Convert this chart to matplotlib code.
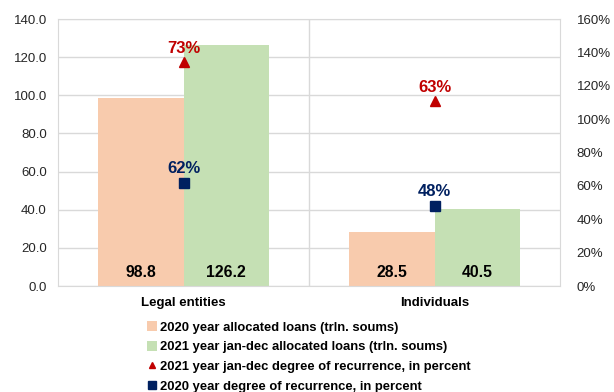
import numpy as np
import matplotlib
matplotlib.use("Agg")
import matplotlib.pyplot as plt
from matplotlib.lines import Line2D
from matplotlib.patches import Patch

plt.rcParams['font.family'] = ['Liberation Sans', 'DejaVu Sans']

# data
categories = ['Legal entities', 'Individuals']
loans_2020 = [98.8, 28.5]
loans_2021 = [126.2, 40.5]
recur_2021 = [73, 63]   # percent
recur_2020 = [62, 48]   # percent

legend_labels = [
    '2020 year allocated loans (trln. soums)',
    '2021 year jan-dec allocated loans (trln. soums)',
    '2021 year jan-dec degree of recurrence, in percent',
    '2020 year degree of recurrence, in percent',
]

c_orange = '#F8CBAD'
c_green = '#C5E0B4'
c_red = '#C00000'
c_navy = '#002060'
c_grid = '#D9D9D9'

fig = plt.figure(figsize=(6.14, 3.92), dpi=100)
ax = fig.add_axes([0.0945, 0.2704, 0.8176, 0.6811])

x = np.arange(len(categories))
w = 0.34
b1 = ax.bar(x - w / 2, loans_2020, w, color=c_orange, zorder=2)
b2 = ax.bar(x + w / 2, loans_2021, w, color=c_green, zorder=2)

for bars, vals in ((b1, loans_2020), (b2, loans_2021)):
    for r, v in zip(bars, vals):
        ax.annotate(f'{v:.1f}', (r.get_x() + r.get_width() / 2, 0),
                    xytext=(0, 9.4), textcoords='offset points',
                    ha='center', va='center', fontsize=11.3, fontweight='bold',
                    color='black', zorder=5)

ax.set_xlim(-0.5, 1.5)
ax.set_ylim(0, 140)
ax.set_yticks(np.arange(0, 141, 20))
ax.set_yticklabels([f'{v:.1f}' for v in np.arange(0, 141, 20)])
ax.yaxis.grid(True, color=c_grid, linewidth=1, zorder=0)
ax.axvline(0.5, color=c_grid, linewidth=1, zorder=0)
ax.set_xticks(x)
ax.set_xticklabels(categories, fontweight='bold', fontsize=9.5)
ax.tick_params(axis='x', length=0, pad=8)
ax.tick_params(axis='y', length=0, labelsize=9.5, colors='#262626', pad=8)
for s in ax.spines.values():
    s.set_color(c_grid)

# right percent axis
ax2 = ax.twinx()
ax2.set_ylim(0, 160)
ax2.set_yticks(np.arange(0, 161, 20))
ax2.set_yticklabels([f'{v}%' for v in range(0, 161, 20)])
ax2.tick_params(axis='y', length=0, labelsize=9.5, colors='#262626', pad=12)
for s in ax2.spines.values():
    s.set_visible(False)

ax2.plot(x, recur_2020, linestyle='none', marker='s', markersize=7.5,
         color=c_navy, zorder=4)
for xi, v in zip(x, recur_2020):
    ax2.annotate(f'{v}%', (xi, v), xytext=(0, 10.2), textcoords='offset points',
                 ha='center', va='center', fontsize=12, fontweight='bold',
                 color=c_navy)

# triangle series sits on its own hidden scale
ax3 = ax.twinx()
ax3.set_ylim(15.6, 84)
ax3.axis('off')
ax3.plot(x, recur_2021, linestyle='none', marker='^', markersize=7,
         color=c_red, zorder=4)
for xi, v in zip(x, recur_2021):
    ax3.annotate(f'{v}%', (xi, v), xytext=(0, 9.8), textcoords='offset points',
                 ha='center', va='center', fontsize=12, fontweight='bold',
                 color=c_red)

handles = [
    Patch(facecolor=c_orange, edgecolor='none'),
    Patch(facecolor=c_green, edgecolor='none'),
    Line2D([], [], linestyle='none', marker='^', markersize=5, color=c_red),
    Line2D([], [], linestyle='none', marker='s', markersize=5.5, color=c_navy),
]
fig.legend(handles, legend_labels, loc='upper left',
           bbox_to_anchor=(0.239, 0.180), frameon=False,
           prop={'weight': 'bold', 'size': 9.4}, handlelength=0.75,
           handleheight=0.75, handletextpad=0.3, labelspacing=0.56,
           borderpad=0, borderaxespad=0)

fig.savefig('out.png', dpi=100)
